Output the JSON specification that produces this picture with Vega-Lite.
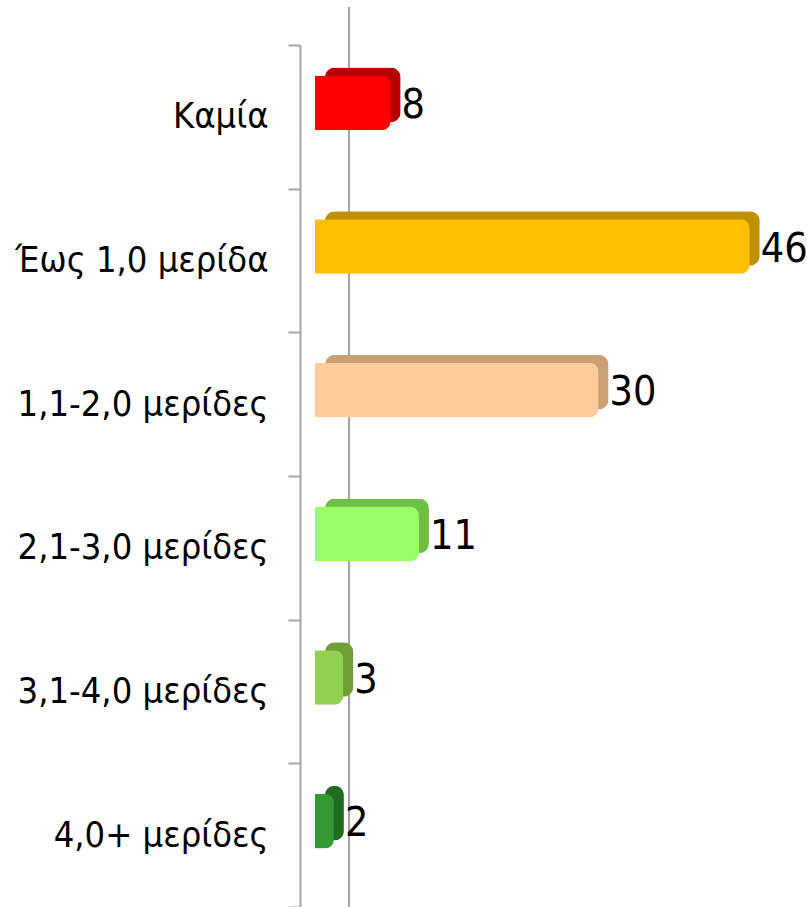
{
  "$schema": "https://vega.github.io/schema/vega-lite/v6.json",
  "width": 507,
  "height": 862,
  "autosize": {"type": "none"},
  "padding": {"left": 300, "top": 45, "right": 0, "bottom": 0},
  "background": "white",
  "config": {"view": {"stroke": null}},
  "data": {"values": [
    {"cat": "Καμία", "v": 8},
    {"cat": "Έως 1,0 μερίδα", "v": 46},
    {"cat": "1,1-2,0 μερίδες", "v": 30},
    {"cat": "2,1-3,0 μερίδες", "v": 11},
    {"cat": "3,1-4,0 μερίδες", "v": 3},
    {"cat": "4,0+ μερίδες", "v": 2}
  ]},
  "layer": [
    {"layer": [
      {"mark": {"type": "rule", "color": "#A6A6A6", "strokeWidth": 2, "yOffset": -38, "y2Offset": -37},
       "encoding": {"x": {"datum": 3.6, "type": "quantitative", "scale": {"domain": [-1.587, 52.06], "nice": false, "zero": false}, "axis": null}}},
      {"mark": {"type": "bar", "height": {"band": 0.38}, "cornerRadius": 10, "yOffset": -22, "y2Offset": -22},
       "encoding": {
         "y": {"field": "cat", "type": "nominal", "sort": null,
           "scale": {"paddingInner": 0, "paddingOuter": 0},
           "axis": {"title": null, "domainColor": "#A6A6A6", "domainWidth": 2, "tickColor": "#A6A6A6", "tickWidth": 2, "tickSize": 12, "tickBand": "extent", "labelPadding": 20, "labelFont": "DejaVu Sans Condensed", "labelFontSize": 36, "labelColor": "#000000", "labelLimit": 300}},
         "x": {"field": "v", "type": "quantitative", "scale": {"domain": [-2.645, 51.0], "nice": false, "zero": false}, "axis": null},
         "color": {"field": "cat", "type": "nominal", "sort": null, "legend": null,
           "scale": {"range": ["#B80000", "#BF9000", "#C9A173", "#6FBF45", "#6E9E35", "#216B21"]}}
       }}
    ],
    "resolve": {"scale": {"x": "independent"}, "axis": {"x": "independent"}}},
    {"layer": [
      {"mark": {"type": "bar", "height": {"band": 0.38}, "cornerRadiusEnd": 9, "yOffset": -14, "y2Offset": -14},
       "encoding": {
         "y": {"field": "cat", "type": "nominal", "sort": null},
         "x": {"field": "v", "type": "quantitative", "scale": {"domain": [-1.587, 52.06], "nice": false, "zero": false}, "axis": null},
         "color": {"field": "cat", "type": "nominal", "sort": null, "legend": null,
           "scale": {"range": ["#FF0000", "#FFC000", "#FFCC99", "#99FF66", "#92D050", "#339933"]}}
       }},
      {"mark": {"type": "text", "align": "left", "baseline": "middle", "dx": 11, "yOffset": -11, "font": "DejaVu Sans Condensed", "fontSize": 41, "color": "#000000"},
       "encoding": {
         "y": {"field": "cat", "type": "nominal", "sort": null},
         "x": {"field": "v", "type": "quantitative"},
         "text": {"field": "v", "type": "quantitative"}
       }}
    ]}
  ],
  "resolve": {"scale": {"color": "independent", "x": "independent"}, "axis": {"x": "independent"}}
}
